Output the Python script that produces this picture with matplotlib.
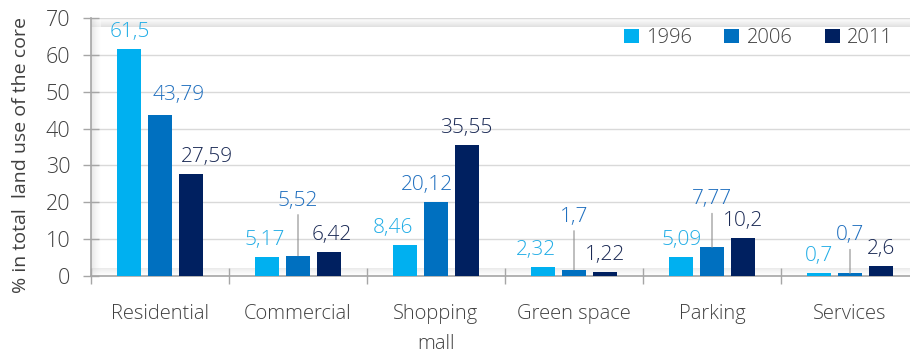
import numpy as np
import matplotlib.pyplot as plt

# land use shares of the core, by category and year
categories = ["Residential", "Commercial", "Shopping\nmall", "Green space", "Parking", "Services"]
years = ["1996", "2006", "2011"]
share_1996 = [61.5, 5.17, 8.46, 2.32, 5.09, 0.7]
share_2006 = [43.79, 5.52, 20.12, 1.7, 7.77, 0.7]
share_2011 = [27.59, 6.42, 35.55, 1.22, 10.2, 2.6]
value_text = {
    "1996": ["61,5", "5,17", "8,46", "2,32", "5,09", "0,7"],
    "2006": ["43,79", "5,52", "20,12", "1,7", "7,77", "0,7"],
    "2011": ["27,59", "6,42", "35,55", "1,22", "10,2", "2,6"],
}

bar_colors = ["#00B0F0", "#0070C0", "#002060"]
text_colors = ["#21ADE6", "#1F6FBF", "#1B2A55"]
grey_text = "#404040"

# label nudges in pixels: (category, series) -> (dx, raise above bar top)
label_nudge = {
    (0, 1): (19, 15), (0, 2): (16, 12),
    (1, 0): (-3, 12), (1, 1): (0, 50), (1, 2): (3, 12),
    (2, 0): (-12, 12), (2, 1): (-9, 12),
    (3, 0): (-7, 12), (3, 1): (0, 48),
    (4, 1): (0, 43),
    (5, 1): (0, 33),
}
PT = 72 / 100  # pixels -> points at dpi 100

plt.rcParams["font.family"] = ["Open Sans", "DejaVu Sans"]
plt.rcParams["font.weight"] = "light"

fig = plt.figure(figsize=(9.1, 3.53), dpi=100)
ax = fig.add_axes([91 / 910, 1 - 276 / 353, 828 / 910, 258 / 353])

x = np.arange(len(categories))
step, width = 0.222, 0.175
series = [share_1996, share_2006, share_2011]

# soft inner shadow along the plot frame
grad = np.linspace(0, 1, 64)
ax.imshow(grad[:, None], extent=(0, 1, 1, 0.965), transform=ax.transAxes,
          cmap="Greys_r", vmin=-2.2, vmax=1, aspect="auto", zorder=0, alpha=0.6)
ax.imshow(grad[None, :], extent=(0, 0.012, 0, 1), transform=ax.transAxes,
          cmap="Greys_r", vmin=-2.2, vmax=1, aspect="auto", zorder=0, alpha=0.5)
ax.imshow(grad[::-1, None], extent=(0, 1, 0.03, 0), transform=ax.transAxes,
          cmap="Greys_r", vmin=-2.2, vmax=1, aspect="auto", zorder=0, alpha=0.4)

for k, (vals, year) in enumerate(zip(series, years)):
    xs = x + (k - 1) * step
    ax.bar(xs, vals, width=width, color=bar_colors[k], label=year, zorder=3)
    for i, v in enumerate(vals):
        dx, up = label_nudge.get((i, k), (0, 12))
        ax.annotate(value_text[year][i], xy=(xs[i], v), xytext=(dx * PT, up * PT),
                    textcoords="offset points", ha="center", va="baseline",
                    fontsize=15, color=text_colors[k], zorder=4)
        if up > 20:
            # thin leader from the bar to its raised label
            ax.annotate("", xy=(xs[i], v), xytext=(0, (up - 9) * PT),
                        textcoords="offset points",
                        arrowprops=dict(arrowstyle="-", color="#8C8C8C", lw=0.8,
                                        shrinkA=0, shrinkB=0), zorder=4)

ax.set_xlim(-0.5, len(categories) - 0.5)
ax.set_ylim(0, 70)
ax.set_yticks(range(0, 71, 10))
ax.yaxis.grid(True, color="#D9D9D9", lw=1, zorder=1)
ax.set_axisbelow(True)

ax.set_xticks(x)
ax.set_xticklabels(categories, fontsize=14.5, color=grey_text, linespacing=1.7)
ax.set_xticks(np.arange(-0.5, len(categories)), minor=True)
ax.tick_params(axis="x", which="major", length=0, pad=20)
ax.tick_params(axis="x", which="minor", direction="inout", length=12, width=1, color="#A6A6A6")
ax.tick_params(axis="y", direction="inout", length=12, width=1, color="#A6A6A6",
               labelsize=15.5, labelcolor=grey_text, pad=9)

for side in ["top", "right"]:
    ax.spines[side].set_visible(False)
for side in ["left", "bottom"]:
    ax.spines[side].set_color("#A6A6A6")
    ax.spines[side].set_linewidth(1.2)

ax.set_ylabel("% in total  land use of the core", fontsize=14, color=grey_text)
ax.yaxis.set_label_coords(-0.074, 0.47)

ax.legend(loc="center right", bbox_to_anchor=(0.99, 0.922), ncol=3, frameon=False,
          handlelength=0.75, handleheight=0.75, handletextpad=0.35, columnspacing=1.6,
          fontsize=14.5, labelcolor=grey_text)

fig.savefig("out.png", dpi=100)
